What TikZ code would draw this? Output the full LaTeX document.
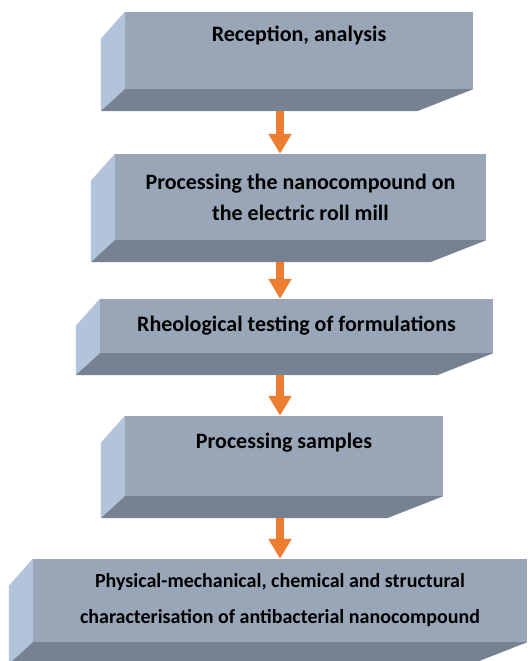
\documentclass[tikz,border=0pt]{standalone}
\usepackage{fontspec}
\setmainfont{Carlito}
\usepackage{tikz}
\usetikzlibrary{calc, arrows.meta}

\definecolor{facegray}{RGB}{152,166,184}
\definecolor{sidelight}{RGB}{178,196,220}
\definecolor{sidedark}{RGB}{118,130,146}
\definecolor{arroworange}{RGB}{237,125,49}

\begin{document}
\begin{tikzpicture}[x=1pt, y=-1pt,
  Face/.style={fill=facegray, inner sep=0pt, align=center,
    font=\bfseries\fontsize{22}{31}\selectfont},
  Arr/.style={-{Triangle[width=22pt, length=20pt]}, line width=8pt, arroworange}]
  \clip (0,0) rectangle (531,661);
  \node[Face, minimum width=348pt, minimum height=77pt, text depth=33pt] (B1) at (299,50.5) {Reception, analysis};
  \node[Face, minimum width=371pt, minimum height=86pt] (B2) at (300.5,197) {Processing the nanocompound on\\the electric roll mill};
  \node[Face, minimum width=393pt, minimum height=54pt] (B3) at (296.5,326) {Rheological testing of formulations};
  \node[Face, minimum width=318pt, minimum height=80pt, text depth=31pt] (B4) at (284,456) {Processing samples};
  \node[Face, minimum width=494pt, minimum height=83pt, font=\bfseries\fontsize{20}{36}\selectfont] (B5) at (280,600.5) {Physical-mechanical, chemical and structural\\characterisation of antibacterial nanocompound};
  % side and bottom faces
  \foreach \b in {B1,B2,B3,B4,B5} {
    \fill[sidelight] (\b.north west) -- ++(-24,27) -- ($(\b.south west)+(-24,22)$) -- (\b.south west) -- cycle;
    \fill[sidedark] (\b.south west) -- (\b.south east) -- ++(-56,22) -- ($(\b.south west)+(-24,22)$) -- cycle;
    \coordinate (foot\b) at ($(\b.south)+(0,22)$);
  }
  \coordinate (ax) at (280,0);
  \foreach \a/\b in {B1/B2,B2/B3,B3/B4,B4/B5}
    \draw[Arr] (foot\a -| ax) -- (\b.north -| ax);
\end{tikzpicture}
\end{document}
